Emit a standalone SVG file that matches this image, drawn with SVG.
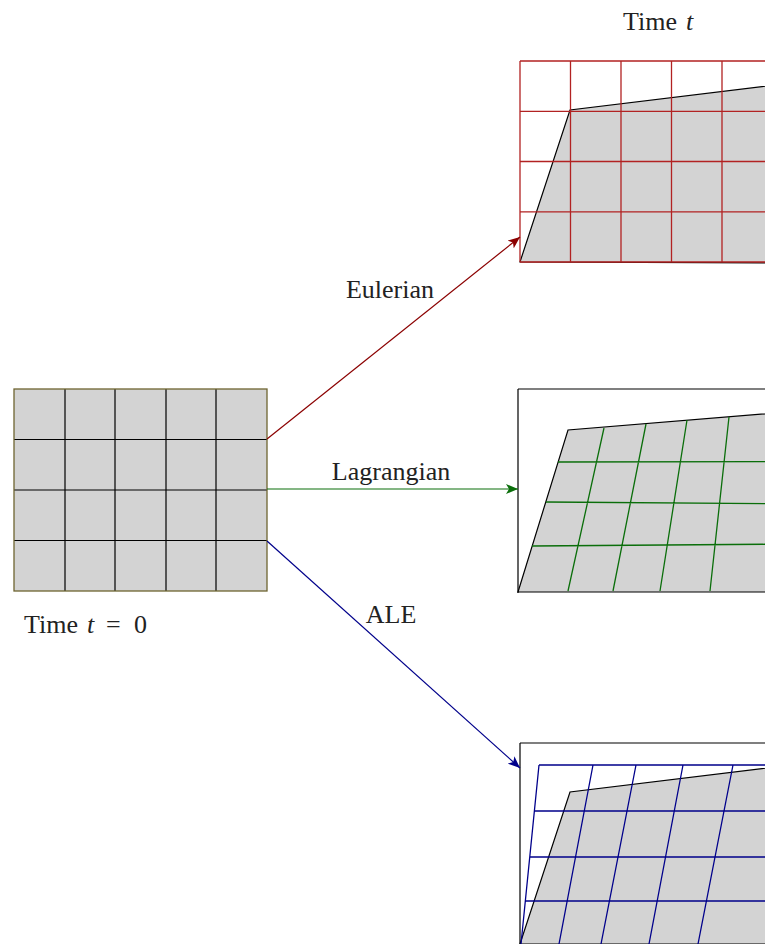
<svg xmlns="http://www.w3.org/2000/svg" width="765" height="944" viewBox="0 0 765 944">
<style>
text{font-family:"Liberation Serif","DejaVu Serif",serif;font-size:26px;fill:#222}
.it{font-style:italic}
.shape{fill:#d3d3d3;stroke:#000;stroke-width:1.2}
.blk{stroke:#000;stroke-width:1.2;fill:none}
.red{stroke:#b22222;stroke-width:1.3;fill:none}
.grn{stroke:#0a6e0a;stroke-width:1.3;fill:none}
.blu{stroke:#00008b;stroke-width:1.3;fill:none}
</style>
<defs>
<marker id="ar" markerUnits="userSpaceOnUse" markerWidth="14" markerHeight="10" refX="12" refY="5" orient="auto"><path d="M0,0 L12,5 L0,10 L3,5 Z" fill="#8b0000"/></marker>
<marker id="ag" markerUnits="userSpaceOnUse" markerWidth="14" markerHeight="10" refX="12" refY="5" orient="auto"><path d="M0,0 L12,5 L0,10 L3,5 Z" fill="#0a6e0a"/></marker>
<marker id="ab" markerUnits="userSpaceOnUse" markerWidth="14" markerHeight="10" refX="12" refY="5" orient="auto"><path d="M0,0 L12,5 L0,10 L3,5 Z" fill="#00008b"/></marker>
</defs>
<rect width="765" height="944" fill="#fff"/>

<g id="initial">
<rect x="14" y="389" width="253" height="202" fill="#d3d3d3"/>
<path class="blk" d="M65,389V591M115,389V591M166,389V591M216,389V591M14,439.5H267M14,490H267M14,540.5H267"/>
<rect x="14" y="389" width="253" height="202" fill="none" stroke="#6e6430" stroke-width="1.3"/>
<text y="633"><tspan x="24">Time</tspan><tspan x="87" class="it">t</tspan><tspan x="106">=</tspan><tspan x="134">0</tspan></text>
</g>

<g id="eulerian">
<polygon class="shape" points="520,262 570,110 800,82 800,263"/>
<path class="red" d="M520,61H800M520,111.3H800M520,161.5H800M520,211.8H800M520,262H800M520,61V262M570.5,61V262M621,61V262M671.5,61V262M722,61V262"/>
<text y="30"><tspan x="623">Time</tspan><tspan x="686" class="it">t</tspan></text>
</g>

<g id="lagrangian">
<path class="blk" d="M518,389H800M518,389V593"/>
<polygon class="shape" points="518,592 568,430 800,411 800,592"/>
<path class="grn" d="M558,462L800,461.5M546,502L800,504M532,546L800,544M604,428L568,591M646,424L613,591M687,420L660,591M729,417L710,591"/>
</g>

<g id="ale">
<path class="blk" d="M520,743H800M520,743V944"/>
<polygon class="shape" points="520,944 570,792 800,764 800,944"/>
<path class="blu" d="M539,765H800M534.5,811H800M530,857H800M525,901H800M539,765L521,944M593,765L559,944M636,765L601,944M683,765L649,944M733,765L698,944"/>
</g>

<g id="connectors">
<line x1="267" y1="439" x2="520" y2="237" stroke="#8b0000" stroke-width="1.2" marker-end="url(#ar)"/>
<line x1="267" y1="489" x2="518" y2="489" stroke="#0a6e0a" stroke-width="1.2" marker-end="url(#ag)"/>
<line x1="267" y1="541" x2="520" y2="768" stroke="#00008b" stroke-width="1.2" marker-end="url(#ab)"/>
<text x="390" y="298" text-anchor="middle">Eulerian</text>
<text x="391" y="480" text-anchor="middle">Lagrangian</text>
<text x="391" y="623" text-anchor="middle">ALE</text>
</g>
</svg>
